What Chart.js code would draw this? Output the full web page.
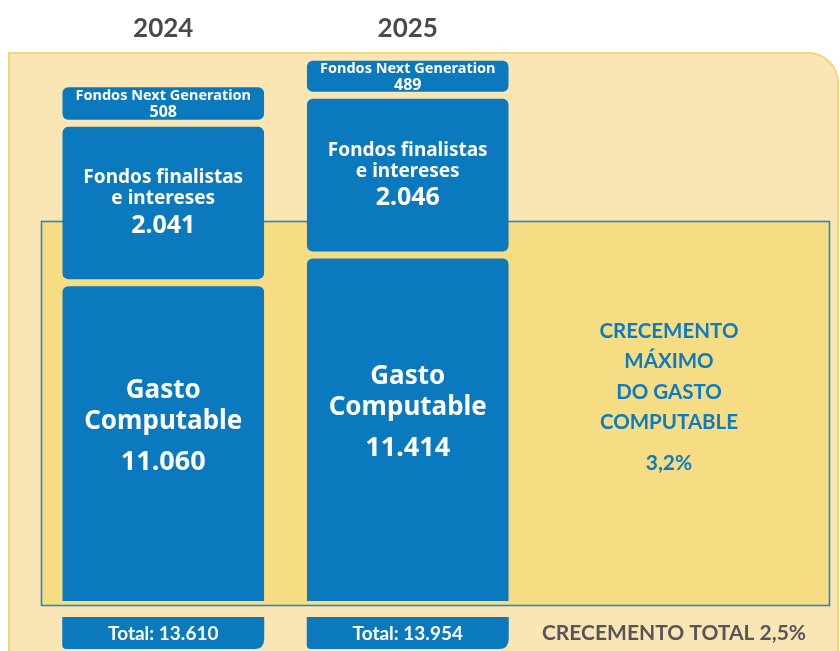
<!DOCTYPE html>
<html><head><meta charset="utf-8">
<script src="https://cdn.jsdelivr.net/npm/chart.js@4/dist/chart.umd.min.js"></script>
<style>html,body{margin:0;padding:0;background:#fff}#wrap{position:relative;width:840px;height:651px}</style>
</head><body><div id="wrap"><canvas id="c" width="840" height="651"></canvas></div>
<script>
// ---- data ----
const years = ['2024', '2025'];
const gastoComputable = [11060, 11414];
const fondosFinalistas = [2041, 2046];
const fondosNextGen = [508, 489];
const totals = [13610, 13954];
const seriesLines = [['Gasto', 'Computable'], ['Fondos finalistas', 'e intereses'], ['Fondos Next Generation']];
const crecementoMaximoLines = ['CRECEMENTO', 'MÁXIMO', 'DO GASTO', 'COMPUTABLE'];
const crecementoMaximo = 3.2;
const crecementoTotalLabel = 'CRECEMENTO TOTAL';
const crecementoTotal = 2.5;
const totalPrefix = 'Total: ';

// ---- helpers ----
const fmtNum = n => String(n).replace(/\B(?=(\d{3})+(?!\d))/g, '.');
const fmtPct = n => n.toFixed(1).replace('.', ',') + '%';
const BLUE = '#0B79BD';
const TXTBLUE = '#0B7CC1';
const GREY = '#55565A';
const INSET = 3.5;

const barStyle = {
  backgroundColor: BLUE,
  borderColor: 'rgba(0,0,0,0)',
  borderWidth: {top: INSET, bottom: INSET, left: 0, right: 0},
  borderSkipped: false,
  borderRadius: {topLeft: 6 + INSET, topRight: 6 + INSET, bottomLeft: 6 + INSET, bottomRight: 6 + INSET},
  inflateAmount: 0,
  clip: 0
};

function rr(ctx, x, y, w, h, r) {
  ctx.beginPath();
  ctx.moveTo(x + r.tl, y);
  ctx.lineTo(x + w - r.tr, y);
  ctx.quadraticCurveTo(x + w, y, x + w, y + r.tr);
  ctx.lineTo(x + w, y + h - r.br);
  ctx.quadraticCurveTo(x + w, y + h, x + w - r.br, y + h);
  ctx.lineTo(x + r.bl, y + h);
  ctx.quadraticCurveTo(x, y + h, x, y + h - r.bl);
  ctx.lineTo(x, y + r.tl);
  ctx.quadraticCurveTo(x, y, x + r.tl, y);
  ctx.closePath();
}

const backdrop = {
  id: 'backdrop',
  beforeDraw(chart) {
    const ctx = chart.ctx;
    const a = chart.chartArea;
    ctx.save();
    ctx.beginPath();
    ctx.moveTo(9, 53);
    ctx.lineTo(808, 53);
    ctx.arcTo(838, 53, 838, 83, 30);
    ctx.lineTo(838, 660);
    ctx.lineTo(9, 660);
    ctx.closePath();
    ctx.fillStyle = '#FAE6B4';
    ctx.fill();
    ctx.lineWidth = 2;
    ctx.strokeStyle = '#F4D67C';
    ctx.stroke();
    ctx.fillStyle = '#F6DC82';
    ctx.fillRect(a.left, 221, 829 - a.left, 384);
    ctx.lineWidth = 1.6;
    ctx.strokeStyle = '#2E86C0';
    ctx.strokeRect(a.left + 0.5, 221.5, 829 - a.left, 384);
    ctx.restore();
  }
};

const labels = {
  id: 'labels',
  afterDatasetsDraw(chart) {
    const ctx = chart.ctx;
    const a = chart.chartArea;
    const xs = chart.scales.x;
    ctx.save();
    ctx.textAlign = 'center';
    ctx.textBaseline = 'middle';
    const sets = [gastoComputable, fondosFinalistas, fondosNextGen];
    chart.data.datasets.forEach((ds, di) => {
      const meta = chart.getDatasetMeta(di);
      meta.data.forEach((el, i) => {
        const top = Math.max(el.y, a.top) + INSET;
        const bot = el.base > a.bottom ? a.bottom : el.base - INSET;
        const cy = (top + bot) / 2;
        const val = fmtNum(sets[di][i]);
        ctx.fillStyle = '#FFFFFF';
        if (di === 0) {
          const c = cy - 17;
          ctx.font = 'bold 26px "Noto Sans"';
          ctx.fillText(seriesLines[0][0], el.x, c - 36);
          ctx.fillText(seriesLines[0][1], el.x, c - 5);
          ctx.font = 'bold 27px "Noto Sans"';
          ctx.fillText(val, el.x, c + 36);
        } else if (di === 1) {
          ctx.font = 'bold 19px "Noto Sans"';
          ctx.fillText(seriesLines[1][0], el.x, cy - 25);
          ctx.fillText(seriesLines[1][1], el.x, cy - 4);
          ctx.font = 'bold 25px "Noto Sans"';
          ctx.fillText(val, el.x, cy + 23);
        } else {
          ctx.font = 'bold 14.5px "Noto Sans"';
          ctx.fillText(seriesLines[2][0], el.x, cy - 7.5);
          ctx.font = 'bold 16px "Noto Sans"';
          ctx.fillText(val, el.x, cy + 9);
        }
      });
    });
    const m0 = chart.getDatasetMeta(0);
    years.forEach((y, i) => {
      const x = xs.getPixelForValue(i);
      ctx.fillStyle = '#4A4A4C';
      ctx.font = 'bold 26px Lato';
      ctx.fillText(y, x, 29);
      const el = m0.data[i];
      const w = el.width;
      ctx.fillStyle = BLUE;
      rr(ctx, x - w / 2, 617, w, 32, {tl: 0, tr: 0, br: 10, bl: 4});
      ctx.fill();
      ctx.fillStyle = '#FFFFFF';
      ctx.font = 'bold 19px Lato';
      ctx.fillText(totalPrefix + fmtNum(totals[i]), x, 634);
    });
    ctx.fillStyle = TXTBLUE;
    ctx.font = 'bold 20.5px Lato';
    const ly = [331, 361, 392, 422];
    crecementoMaximoLines.forEach((t, i) => ctx.fillText(t, 669, ly[i]));
    ctx.font = 'bold 21px Lato';
    ctx.fillText(fmtPct(crecementoMaximo), 669, 463);
    ctx.fillStyle = GREY;
    ctx.font = 'bold 21px Lato';
    ctx.fillText(crecementoTotalLabel + ' ' + fmtPct(crecementoTotal), 674, 633);
    ctx.restore();
  }
};

new Chart(document.getElementById('c'), {
  type: 'bar',
  data: {
    labels: years,
    datasets: [
      Object.assign({label: 'Gasto Computable', data: gastoComputable}, barStyle),
      Object.assign({label: 'Fondos finalistas e intereses', data: fondosFinalistas}, barStyle),
      Object.assign({label: 'Fondos Next Generation', data: fondosNextGen}, barStyle)
    ]
  },
  options: {
    responsive: false,
    animation: false,
    devicePixelRatio: 1,
    layout: {padding: {left: 41, right: 310, top: 54, bottom: 50}},
    datasets: {bar: {categoryPercentage: 0.826, barPercentage: 1}},
    scales: {
      x: {stacked: true, display: false},
      y: {stacked: true, display: false, min: 6980, max: 13990}
    },
    plugins: {legend: {display: false}, tooltip: {enabled: false}}
  },
  plugins: [backdrop, labels]
});
</script>
</body></html>
